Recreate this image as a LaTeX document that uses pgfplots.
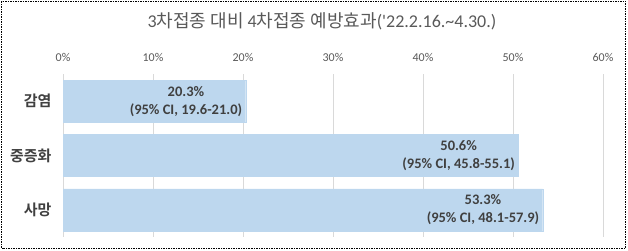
\documentclass[border=0pt]{standalone}
\usepackage{fontspec}
\usepackage{pgfplots}
\pgfplotsset{compat=1.18}
\setmainfont{Carlito}[BoldFont={Carlito Bold}]
\newfontfamily\kr{Noto Sans CJK KR}[BoldFont={Noto Sans CJK KR Bold}]
\definecolor{barc}{HTML}{BDD7EE}
\definecolor{txt}{HTML}{595959}
\definecolor{lab}{HTML}{404040}
\definecolor{gridc}{HTML}{D9D9D9}
\begin{document}
\begin{tikzpicture}[x=1pt,y=1pt]
\useasboundingbox (0,0) rectangle (628,251);
\draw[black, line width=0.6pt, dash pattern=on 1.5pt off 1pt] (1.5,3) rectangle (625.5,249.5);
\node[text=txt, font=\fontsize{18}{20}\selectfont] at (322,230) {3{\kr 차접종 대비 }4{\kr 차접종 예방효과}(\textquotesingle 22.2.16.\textasciitilde 4.30.)};
\begin{axis}[
  at={(63pt,14pt)}, anchor=south west,
  scale only axis, width=540pt, height=163pt,
  xbar, bar width=42pt,
  xmin=0, xmax=60, ymin=-0.5, ymax=2.5, y dir=reverse,
  ytick={0,1,2}, yticklabels={감염,중증화,사망},
  axis line style={draw=none}, major tick length=0pt,
  xmajorgrids, grid style={gridc, line width=0.8pt},
  xtick={0,10,...,60}, xticklabel pos=upper,
  xticklabel={\pgfmathprintnumber{\tick}\%},
  /pgf/number format/assume math mode=true,
  xticklabel style={text=txt, font=\fontsize{12}{14}\selectfont, yshift=9pt},
  yticklabel style={text=lab, font=\kr\bfseries\fontsize{15}{17}\selectfont, xshift=-8pt},
  point meta=explicit symbolic,
  nodes near coords,
  nodes near coords style={anchor=east, align=center, text=lab, font=\fontsize{14.5}{18}\selectfont\bfseries},
]
\addplot[fill=barc, draw=barc] coordinates {
  (20.3,0) [{20.3\%\\(95\% CI, 19.6-21.0)}]
  (50.6,1) [{50.6\%\\(95\% CI, 45.8-55.1)}]
  (53.3,2) [{53.3\%\\(95\% CI, 48.1-57.9)}]
};
\end{axis}
\end{tikzpicture}
\end{document}
